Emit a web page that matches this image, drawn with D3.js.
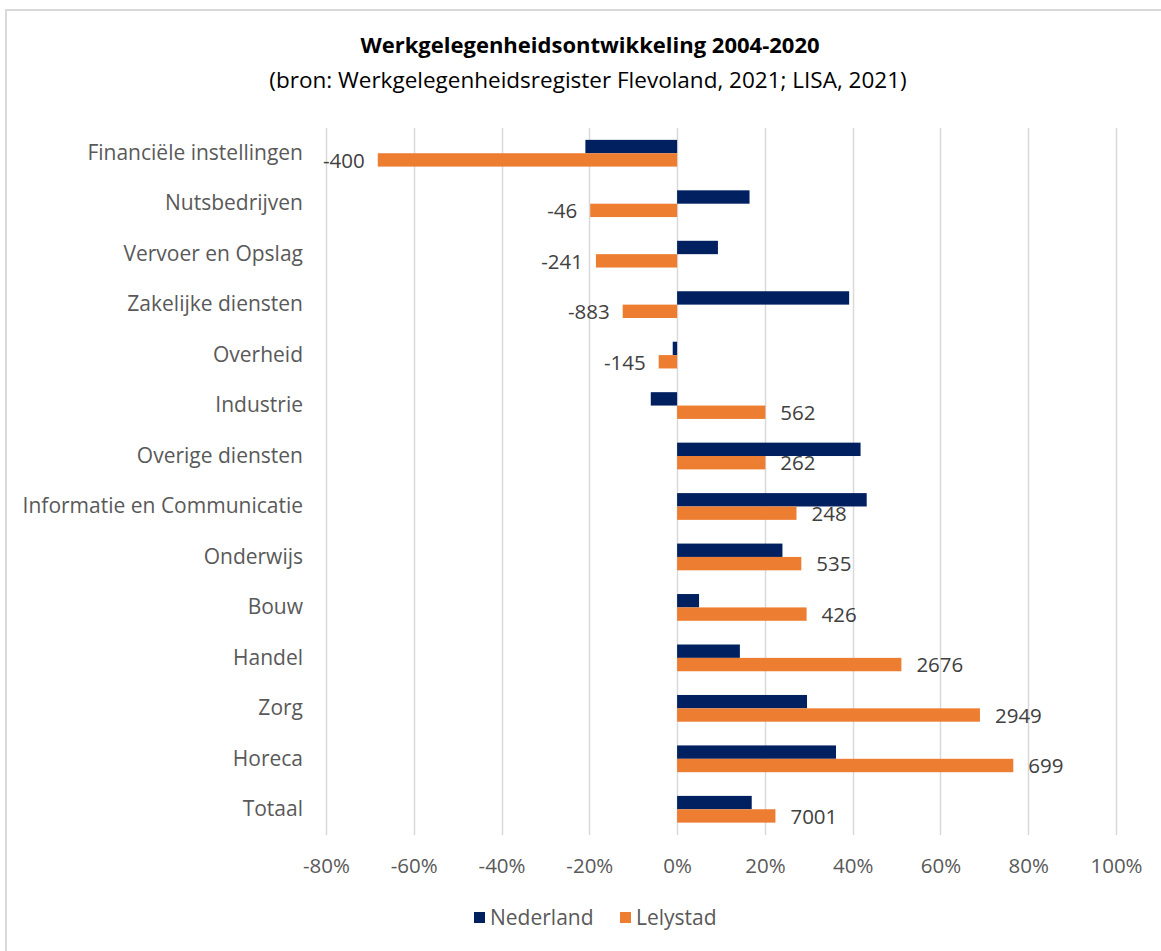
<!DOCTYPE html>
<html>
<head>
<meta charset="utf-8">
<script src="https://cdn.jsdelivr.net/npm/d3@7"></script>
<style>
  body { margin: 0; background: #fff; }
  text { font-family: "Open Sans", sans-serif; }
</style>
</head>
<body>
<svg id="chart" width="1161" height="951"></svg>
<script>
// sectoren, van boven naar beneden
categories = ["Financiële instellingen", "Nutsbedrijven", "Vervoer en Opslag", "Zakelijke diensten",
    "Overheid", "Industrie", "Overige diensten", "Informatie en Communicatie", "Onderwijs",
    "Bouw", "Handel", "Zorg", "Horeca", "Totaal "];

// procentuele groei 2004-2020
nederland = [-0.209, 0.165, 0.093, 0.392, -0.010, -0.060, 0.418, 0.432, 0.240, 0.050, 0.143, 0.296, 0.362, 0.170];
lelystad = [-0.682, -0.198, -0.185, -0.124, -0.042, 0.201, 0.201, 0.272, 0.283, 0.295, 0.511, 0.690, 0.766, 0.224];

// absolute groei Lelystad (labels)
lelystadCount = [-400, -46, -241, -883, -145, 562, 262, 248, 535, 426, 2676, 2949, 699, 7001];

xTicks = [-0.8, -0.6, -0.4, -0.2, 0, 0.2, 0.4, 0.6, 0.8, 1.0];
seriesNames = ["Nederland", "Lelystad"];
colors = ["#002060", "#ED7D31"];

svg = d3.select("#chart");

// rand om de grafiek (rechts en onder valt buiten beeld)
svg.append("rect")
    .attr("x", 6).attr("y", 10)
    .attr("width", 1200).attr("height", 1000)
    .attr("fill", "none")
    .attr("stroke", "#d9d9d9")
    .attr("stroke-width", 2);

svg.append("text")
    .attr("x", 590).attr("y", 53)
    .attr("text-anchor", "middle")
    .attr("font-size", 22)
    .attr("font-weight", "bold")
    .attr("fill", "#000")
    .text("Werkgelegenheidsontwikkeling 2004-2020");
svg.append("text")
    .attr("x", 588).attr("y", 88)
    .attr("text-anchor", "middle")
    .attr("font-size", 22.5)
    .attr("fill", "#000")
    .text("(bron: Werkgelegenheidsregister Flevoland, 2021; LISA, 2021)");

x = d3.scaleLinear().domain([-0.8, 1.0]).range([326, 1116]);
y = d3.scaleBand().domain(categories).range([128, 834.5]).paddingInner(0.47).paddingOuter(0.235);

// rasterlijnen
svg.append("g").selectAll("line")
    .data(xTicks)
    .enter().append("line")
    .attr("x1", d => Math.round(x(d)) + 0.5)
    .attr("x2", d => Math.round(x(d)) + 0.5)
    .attr("y1", 128)
    .attr("y2", 835)
    .attr("stroke", "#d9d9d9")
    .attr("stroke-width", 1.5);

xAxis = d3.axisBottom(x).tickValues(xTicks).tickSize(0).tickPadding(0)
    .tickFormat(d => Math.round(d * 100) + "%");
gx = svg.append("g").attr("transform", "translate(0,873)").call(xAxis);
gx.select(".domain").remove();
gx.selectAll("text")
    .attr("font-size", 20.5)
    .attr("fill", "#595959")
    .attr("dy", 0)
    .style("font-family", "'Open Sans', sans-serif");

half = y.bandwidth() / 2;

svg.append("g").selectAll("rect")
    .data(nederland)
    .enter().append("rect")
    .attr("x", d => x(Math.min(0, d)))
    .attr("width", d => Math.abs(x(d) - x(0)))
    .attr("y", (d, i) => y(categories[i]))
    .attr("height", half)
    .attr("fill", colors[0]);

svg.append("g").selectAll("rect")
    .data(lelystad)
    .enter().append("rect")
    .attr("x", d => x(Math.min(0, d)))
    .attr("width", d => Math.abs(x(d) - x(0)))
    .attr("y", (d, i) => y(categories[i]) + half)
    .attr("height", half)
    .attr("fill", colors[1]);

// labels met absolute aantallen
svg.append("g").selectAll("text")
    .data(lelystad)
    .enter().append("text")
    .attr("x", d => d < 0 ? x(d) - 13 : x(d) + 15)
    .attr("y", (d, i) => y(categories[i]) + half * 1.5)
    .attr("dy", "0.38em")
    .attr("text-anchor", d => d < 0 ? "end" : "start")
    .attr("font-size", 20.5)
    .attr("fill", "#404040")
    .text((d, i) => lelystadCount[i]);

// categorie-labels, rechts uitgelijnd maar niet buiten de rand
svg.append("g").selectAll("text")
    .data(categories)
    .enter().append("text")
    .attr("y", d => y(d) + half)
    .attr("dy", "0.32em")
    .attr("text-anchor", "end")
    .attr("font-size", 21)
    .attr("fill", "#595959")
    .text(d => d)
    .attr("x", function () { return Math.max(303, 22 + this.getComputedTextLength()); });

// legenda
legend = svg.append("g").attr("transform", "translate(474,918)");
items = legend.selectAll("g")
    .data(seriesNames)
    .enter().append("g")
    .attr("transform", (d, i) => "translate(" + (i * 146) + ",0)");
items.append("rect")
    .attr("x", 0).attr("y", -6)
    .attr("width", 11).attr("height", 11)
    .attr("fill", (d, i) => colors[i]);
items.append("text")
    .attr("x", 16).attr("y", 0)
    .attr("dy", "0.35em")
    .attr("font-size", 21)
    .attr("fill", "#595959")
    .text(d => d);
</script>
</body>
</html>
